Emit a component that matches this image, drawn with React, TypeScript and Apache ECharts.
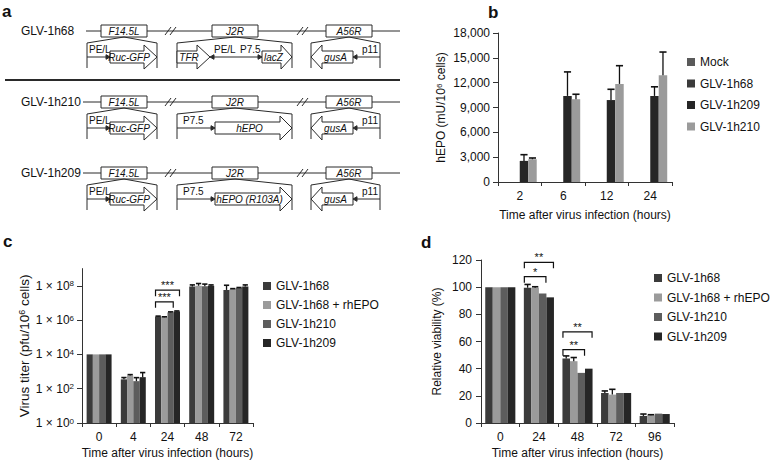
import React, { useEffect, useRef } from 'react';
import * as echarts from 'echarts';

const FONT = '"Liberation Sans", Arial, Helvetica, sans-serif';
const INK = '#111111';
const AXIS = '#333333';

// ---------- panel b : hEPO ----------
const bCategories = ['2', '6', '12', '24'];
const bNames = ['Mock', 'GLV-1h68', 'GLV-1h209', 'GLV-1h210'];
const bColors = ['#5a5a5a', '#3b3b3b', '#262626', '#9b9b9b'];
const bMock: (number | null)[] = [null, null, null, null];
const b1h68: (number | null)[] = [null, null, null, null];
const b1h209 = [2550, 10400, 9900, 10400];
const b1h209Err = [750, 2900, 1300, 1100];
const b1h210 = [2750, 10000, 11850, 12900];
const b1h210Err = [150, 600, 2200, 2800];
const bYMax = 18000;
const bYStep = 3000;

// ---------- panel c : virus titer (log) ----------
const cCategories = ['0', '4', '24', '48', '72'];
const cdNames = ['GLV-1h68', 'GLV-1h68 + rhEPO', 'GLV-1h210', 'GLV-1h209'];
const cdColors = ['#3b3b3b', '#9b9b9b', '#5d5d5d', '#262626'];
const c1h68 = [1e4, 350, 1.6e6, 8.9e7, 5.7e7];
const c1h68Err = [0, 95, 1e5, 2.3e7, 5e7];
const cRh = [1e4, 590, 1.45e6, 1e8, 6.5e7];
const cRhErr = [0, 70, 1e5, 3.5e7, 3e6];
const c1h210 = [1e4, 275, 2.8e6, 9.3e7, 7.4e7];
const c1h210Err = [0, 165, 2e5, 3.2e7, 5e6];
const c1h209 = [1e4, 470, 3.2e6, 1e8, 8.9e7];
const c1h209Err = [0, 400, 2e5, 1.2e7, 2.3e7];
const cTickValues = [1, 1e2, 1e4, 1e6, 1e8];
const cYMin = 1;
const cYMax = 1e9;
// [category, y, fromBar, toBar, label]
const cBrackets: [number, number, number, number, string][] = [
  [2, 5.5e7, 0, 3, '***'],
  [2, 1.15e7, 0, 2, '***'],
];

// ---------- panel d : relative viability ----------
const dCategories = ['0', '24', '48', '72', '96'];
const d1h68 = [100, 99.6, 47.5, 22.1, 5.2];
const d1h68Err = [0, 2.4, 1.9, 1.5, 1.4];
const dRh = [100, 99.6, 45.5, 20.9, 5.7];
const dRhErr = [0, 0.7, 2.7, 3.9, 0.4];
const d1h210 = [100, 95.4, 36.9, 22.1, 6.9];
const d1h210Err = [0, 0, 0, 0, 0];
const d1h209 = [100, 92.5, 40, 22.1, 6.6];
const d1h209Err = [0, 0, 0, 0, 0];
const dYMax = 120;
const dYStep = 20;
const dBrackets: [number, number, number, number, string][] = [
  [1, 118.3, 0, 3, '**'],
  [1, 107.7, 0, 2, '*'],
  [2, 67.1, 0, 3, '**'],
  [2, 54.0, 0, 2, '**'],
];

// ---------- panel a : constructs ----------
const constructNames = ['GLV-1h68', 'GLV-1h210', 'GLV-1h209'];
const lociNames = ['F14.5L', 'J2R', 'A56R'];
const j2rInserts = ['TFR/lacZ', 'hEPO', 'hEPO (R103A)'];

const GAP_B = 0.22;
const GAP_C = 0.27;
const GAP_D = 0.22;

function errData(vals: (number | null)[], errs: number[]) {
  const out: number[][] = [];
  vals.forEach((v, i) => {
    if (v != null && errs[i]) out.push([i, v, v + errs[i]]);
  });
  return out;
}

function makeErrRender(slot: number, n: number, gap: number) {
  return (params: any, api: any) => {
    const ci = api.value(0);
    const v = api.value(1);
    const t = api.value(2);
    const pb = api.coord([ci, v]);
    const pt = api.coord([ci, t]);
    const catW = api.coord([1, v])[0] - api.coord([0, v])[0];
    const gw = catW * (1 - gap);
    const bw = gw / n;
    const x = pb[0] - gw / 2 + (slot + 0.5) * bw;
    const hw = bw * 0.42;
    return {
      type: 'group',
      children: [
        { type: 'line', shape: { x1: x, y1: pb[1], x2: x, y2: pt[1] }, style: { stroke: INK, lineWidth: 1.3 } },
        { type: 'line', shape: { x1: x - hw, y1: pt[1], x2: x + hw, y2: pt[1] }, style: { stroke: INK, lineWidth: 1.6 } },
      ],
    };
  };
}

function makeBracketRender(list: [number, number, number, number, string][], n: number, gap: number, leg: number) {
  return (params: any, api: any) => {
    const ci = api.value(0);
    const y = api.value(1);
    const i0 = api.value(2);
    const i1 = api.value(3);
    const p = api.coord([ci, y]);
    const catW = api.coord([1, y])[0] - api.coord([0, y])[0];
    const gw = catW * (1 - gap);
    const bw = gw / n;
    const x0 = p[0] - gw / 2 + i0 * bw + 0.5;
    const x1 = p[0] - gw / 2 + (i1 + 1) * bw - 0.5;
    const label = list[params.dataIndex][4];
    return {
      type: 'group',
      children: [
        {
          type: 'polyline',
          shape: { points: [[x0, p[1] + leg], [x0, p[1]], [x1, p[1]], [x1, p[1] + leg]] },
          style: { stroke: INK, lineWidth: 1.2, fill: null },
        },
        {
          type: 'text',
          x: (x0 + x1) / 2,
          y: p[1] + 0.5,
          style: { text: label, fontSize: 11, fill: INK, align: 'center', verticalAlign: 'bottom', fontFamily: FONT },
        },
      ],
    };
  };
}

function panelA(): any[] {
  const S = '#2a2a2a';
  const els: any[] = [];
  const line = (x1: number, y1: number, x2: number, y2: number, w = 1) =>
    els.push({ type: 'line', silent: true, shape: { x1, y1, x2, y2 }, style: { stroke: S, lineWidth: w } });
  const text = (x: number, y: number, t: string, size = 10, italic = false, align = 'left', bold = false) =>
    els.push({
      type: 'text', silent: true, x, y,
      style: {
        text: t, fontSize: size, fontStyle: italic ? 'italic' : 'normal', fontWeight: bold ? 'bold' : 'normal',
        fill: INK, align, verticalAlign: 'middle', fontFamily: FONT,
      },
    });
  const poly = (pts: number[][], fill = '#ffffff') =>
    els.push({ type: 'polygon', silent: true, shape: { points: pts }, style: { fill, stroke: S, lineWidth: 1 } });
  const pline = (pts: number[][]) =>
    els.push({ type: 'polyline', silent: true, shape: { points: pts }, style: { stroke: S, lineWidth: 1, fill: null } });
  const head = (x: number, y: number, dir: number) => poly([[x, y], [x - dir * 4, y - 2.3], [x - dir * 4, y + 2.3]], S);
  const blockArrow = (x0: number, xh: number, xt: number, cy: number, label: string) => {
    const d = Math.sign(xt - x0);
    poly([[x0, cy - 6], [xh, cy - 6], [xh, cy - 12], [xt, cy], [xh, cy + 12], [xh, cy + 6], [x0, cy + 6]]);
    text((x0 + xh) / 2 + d * 2, cy, label, 10, true, 'center');
  };

  const rowY = [31, 102, 173];
  const lineStart = [86, 83, 83];
  const boxX = [101, 212, 326];
  constructNames.forEach((name, idx) => {
    const L = rowY[idx];
    text(21, L, name, 12);
    line(lineStart[idx], L, 400, L);
    [165, 297].forEach((bx) => {
      line(bx, L + 4, bx + 6, L - 4);
      line(bx + 5, L + 4, bx + 11, L - 4);
    });
    lociNames.forEach((ln, k) => {
      els.push({
        type: 'rect', silent: true,
        shape: { x: boxX[k], y: L - 6, width: 46, height: 12 },
        style: { fill: '#ffffff', stroke: S, lineWidth: 1 },
      });
      text(boxX[k] + 23, L, ln, 10, true, 'center');
    });
    const roof = (xl: number, xr: number, cx: number) =>
      pline([[xl, L + 37], [xl, L + 12], [cx, L + 6], [xr, L + 12], [xr, L + 37]]);
    roof(87, 157, 124);
    roof(177, 292, 235);
    roof(311, 380, 349);
    const cy = L + 26;
    // F14.5L insert
    line(87, cy, 107, cy);
    head(110, cy, 1);
    text(89, L + 18, 'PE/L', 10);
    blockArrow(110, 144, 157, cy, 'Ruc-GFP');
    // A56R insert
    blockArrow(353, 322, 311, cy, 'gusA');
    line(380, cy, 357, cy);
    head(353, cy, -1);
    text(362, L + 18, 'p11', 10);
    // J2R insert
    if (idx === 0) {
      blockArrow(177, 197, 210, cy, 'TFR');
      line(213, cy, 259, cy);
      head(210, cy, -1);
      head(262, cy, 1);
      text(214, L + 18, 'PE/L', 10);
      text(240, L + 18, 'P7.5', 10);
      blockArrow(262, 281, 292, cy, 'lacZ');
    } else {
      line(177, cy, 211, cy);
      head(215, cy, 1);
      text(183, L + 18, 'P7.5', 10);
      blockArrow(215, 280, 292, cy, j2rInserts[idx]);
    }
  });
  line(5, 80, 400, 80, 2);
  // panel letters
  text(2, 11, 'a', 17, false, 'left', true);
  text(488, 12, 'b', 17, false, 'left', true);
  text(3, 241, 'c', 17, false, 'left', true);
  text(421, 242, 'd', 17, false, 'left', true);
  return els;
}

function supRich(size: number) {
  return {
    a: { fontSize: size, color: INK, fontFamily: FONT },
    s: { fontSize: Math.round(size * 0.68), color: INK, fontFamily: FONT, verticalAlign: 'top' },
  };
}

function catX(gridIndex: number, data: string[], name: string, gap: number) {
  return {
    type: 'category', gridIndex, data,
    axisLine: { show: true, lineStyle: { color: AXIS, width: 1 } },
    axisTick: { show: true, length: 4, alignWithLabel: false, lineStyle: { color: AXIS } },
    axisLabel: { fontSize: 12, color: INK, margin: 8, fontFamily: FONT },
    splitLine: { show: false },
    name, nameLocation: 'middle', nameGap: gap,
    nameTextStyle: { fontSize: 12, color: INK, fontFamily: FONT },
  };
}

function legendFor(names: string[], colors: string[], left: number, top: number, gap: number) {
  return {
    orient: 'vertical', left, top, padding: 0, itemGap: gap, itemWidth: 8, itemHeight: 8,
    icon: 'rect', selectedMode: false,
    textStyle: { fontSize: 12, color: INK, fontFamily: FONT },
    data: names.map((n, i) => ({ name: n, itemStyle: { color: colors[i] }, icon: 'rect' })),
  };
}

export default function App() {
  const ref = useRef<HTMLDivElement>(null);
  useEffect(() => {
    document.body.style.margin = '0';
    if (!ref.current) return;
    const chart = echarts.init(ref.current, undefined, { renderer: 'svg' });

    const bVals = [bMock, b1h68, b1h209, b1h210];
    const cVals = [c1h68, cRh, c1h210, c1h209];
    const cErrs = [c1h68Err, cRhErr, c1h210Err, c1h209Err];
    const dVals = [d1h68, dRh, d1h210, d1h209];
    const dErrs = [d1h68Err, dRhErr, d1h210Err, d1h209Err];

    const series: any[] = [];
    bNames.forEach((n, i) =>
      series.push({
        type: 'bar', name: n, xAxisIndex: 0, yAxisIndex: 0, data: bVals[i],
        barGap: '0%', barCategoryGap: GAP_B * 100 + '%', itemStyle: { color: bColors[i] },
      })
    );
    cdNames.forEach((n, i) =>
      series.push({
        type: 'bar', name: n, xAxisIndex: 1, yAxisIndex: 1, data: cVals[i],
        barGap: '0%', barCategoryGap: GAP_C * 100 + '%', itemStyle: { color: cdColors[i] },
      })
    );
    cdNames.forEach((n, i) =>
      series.push({
        type: 'bar', name: n, xAxisIndex: 2, yAxisIndex: 2, data: dVals[i],
        barGap: '0%', barCategoryGap: GAP_D * 100 + '%', itemStyle: { color: cdColors[i] },
      })
    );
    // error bars
    series.push({
      type: 'custom', name: 'err-b-209', xAxisIndex: 0, yAxisIndex: 0, clip: false, z: 5,
      renderItem: makeErrRender(2, 4, GAP_B), encode: { x: 0, y: [1, 2] }, data: errData(b1h209, b1h209Err),
    });
    series.push({
      type: 'custom', name: 'err-b-210', xAxisIndex: 0, yAxisIndex: 0, clip: false, z: 5,
      renderItem: makeErrRender(3, 4, GAP_B), encode: { x: 0, y: [1, 2] }, data: errData(b1h210, b1h210Err),
    });
    cVals.forEach((v, i) =>
      series.push({
        type: 'custom', name: 'err-c-' + i, xAxisIndex: 1, yAxisIndex: 1, clip: false, z: 5,
        renderItem: makeErrRender(i, 4, GAP_C), encode: { x: 0, y: [1, 2] }, data: errData(v, cErrs[i]),
      })
    );
    dVals.forEach((v, i) =>
      series.push({
        type: 'custom', name: 'err-d-' + i, xAxisIndex: 2, yAxisIndex: 2, clip: false, z: 5,
        renderItem: makeErrRender(i, 4, GAP_D), encode: { x: 0, y: [1, 2] }, data: errData(v, dErrs[i]),
      })
    );
    // significance brackets
    series.push({
      type: 'custom', name: 'sig-c', xAxisIndex: 1, yAxisIndex: 1, clip: false, z: 6,
      renderItem: makeBracketRender(cBrackets, 4, GAP_C, 6), encode: { x: 0, y: 1 },
      data: cBrackets.map((b) => [b[0], b[1], b[2], b[3]]),
    });
    series.push({
      type: 'custom', name: 'sig-d', xAxisIndex: 2, yAxisIndex: 2, clip: false, z: 6,
      renderItem: makeBracketRender(dBrackets, 4, GAP_D, 6), encode: { x: 0, y: 1 },
      data: dBrackets.map((b) => [b[0], b[1], b[2], b[3]]),
    });

    const yCommon = {
      axisLine: { show: true, lineStyle: { color: AXIS, width: 1 } },
      axisTick: { show: true, length: 5, lineStyle: { color: AXIS } },
      splitLine: { show: false },
      nameLocation: 'middle',
      nameRotate: 90,
    };

    chart.setOption({
      animation: false,
      textStyle: { fontFamily: FONT },
      grid: [
        { left: 498, top: 33, width: 174, height: 149, containLabel: false, outerBoundsMode: 'none' },
        { left: 82, top: 268.6, width: 171, height: 154.4, containLabel: false, outerBoundsMode: 'none' },
        { left: 481, top: 260, width: 193, height: 163, containLabel: false, outerBoundsMode: 'none' },
      ],
      xAxis: [
        catX(0, bCategories, 'Time after virus infection (hours)', 27),
        catX(1, cCategories, 'Time after virus infection (hours)', 24),
        catX(2, dCategories, 'Time after virus infection (hours)', 24),
      ],
      yAxis: [
        {
          ...yCommon, type: 'value', gridIndex: 0, min: 0, max: bYMax, interval: bYStep,
          axisLabel: {
            fontSize: 12, color: INK, margin: 8, fontFamily: FONT,
            formatter: (v: number) => v.toLocaleString('en-US'),
          },
          name: '{a|hEPO (mU/10}{s|6}{a| cells)}', nameGap: 51,
          nameTextStyle: { fontSize: 12, color: INK, fontFamily: FONT, rich: supRich(12) },
        },
        {
          ...yCommon, type: 'log', logBase: 10, gridIndex: 1, min: cYMin, max: cYMax,
          axisTick: { ...yCommon.axisTick, customValues: cTickValues },
          axisLabel: {
            customValues: cTickValues, margin: 8, rich: supRich(12),
            formatter: (v: number) => `{a|1 × 10}{s|${Math.round(Math.log10(v))}}`,
          },
          name: '{a|Virus titer (pfu/10}{s|6}{a| cells)}', nameGap: 51,
          nameTextStyle: { fontSize: 13.5, color: INK, fontFamily: FONT, rich: supRich(13.5) },
        },
        {
          ...yCommon, type: 'value', gridIndex: 2, min: 0, max: dYMax, interval: dYStep,
          axisLabel: { fontSize: 12, color: INK, margin: 9, fontFamily: FONT },
          name: 'Relative viability (%)', nameGap: 38,
          nameTextStyle: { fontSize: 12, color: INK, fontFamily: FONT },
        },
      ],
      legend: [
        legendFor(bNames, bColors, 687, 56, 9.5),
        legendFor(cdNames, cdColors, 263, 280, 7),
        legendFor(cdNames, cdColors, 654, 272, 7.5),
      ],
      graphic: panelA(),
      series,
    });
    return () => chart.dispose();
  }, []);
  return <div ref={ref} style={{ width: 770, height: 462 }} />;
}
